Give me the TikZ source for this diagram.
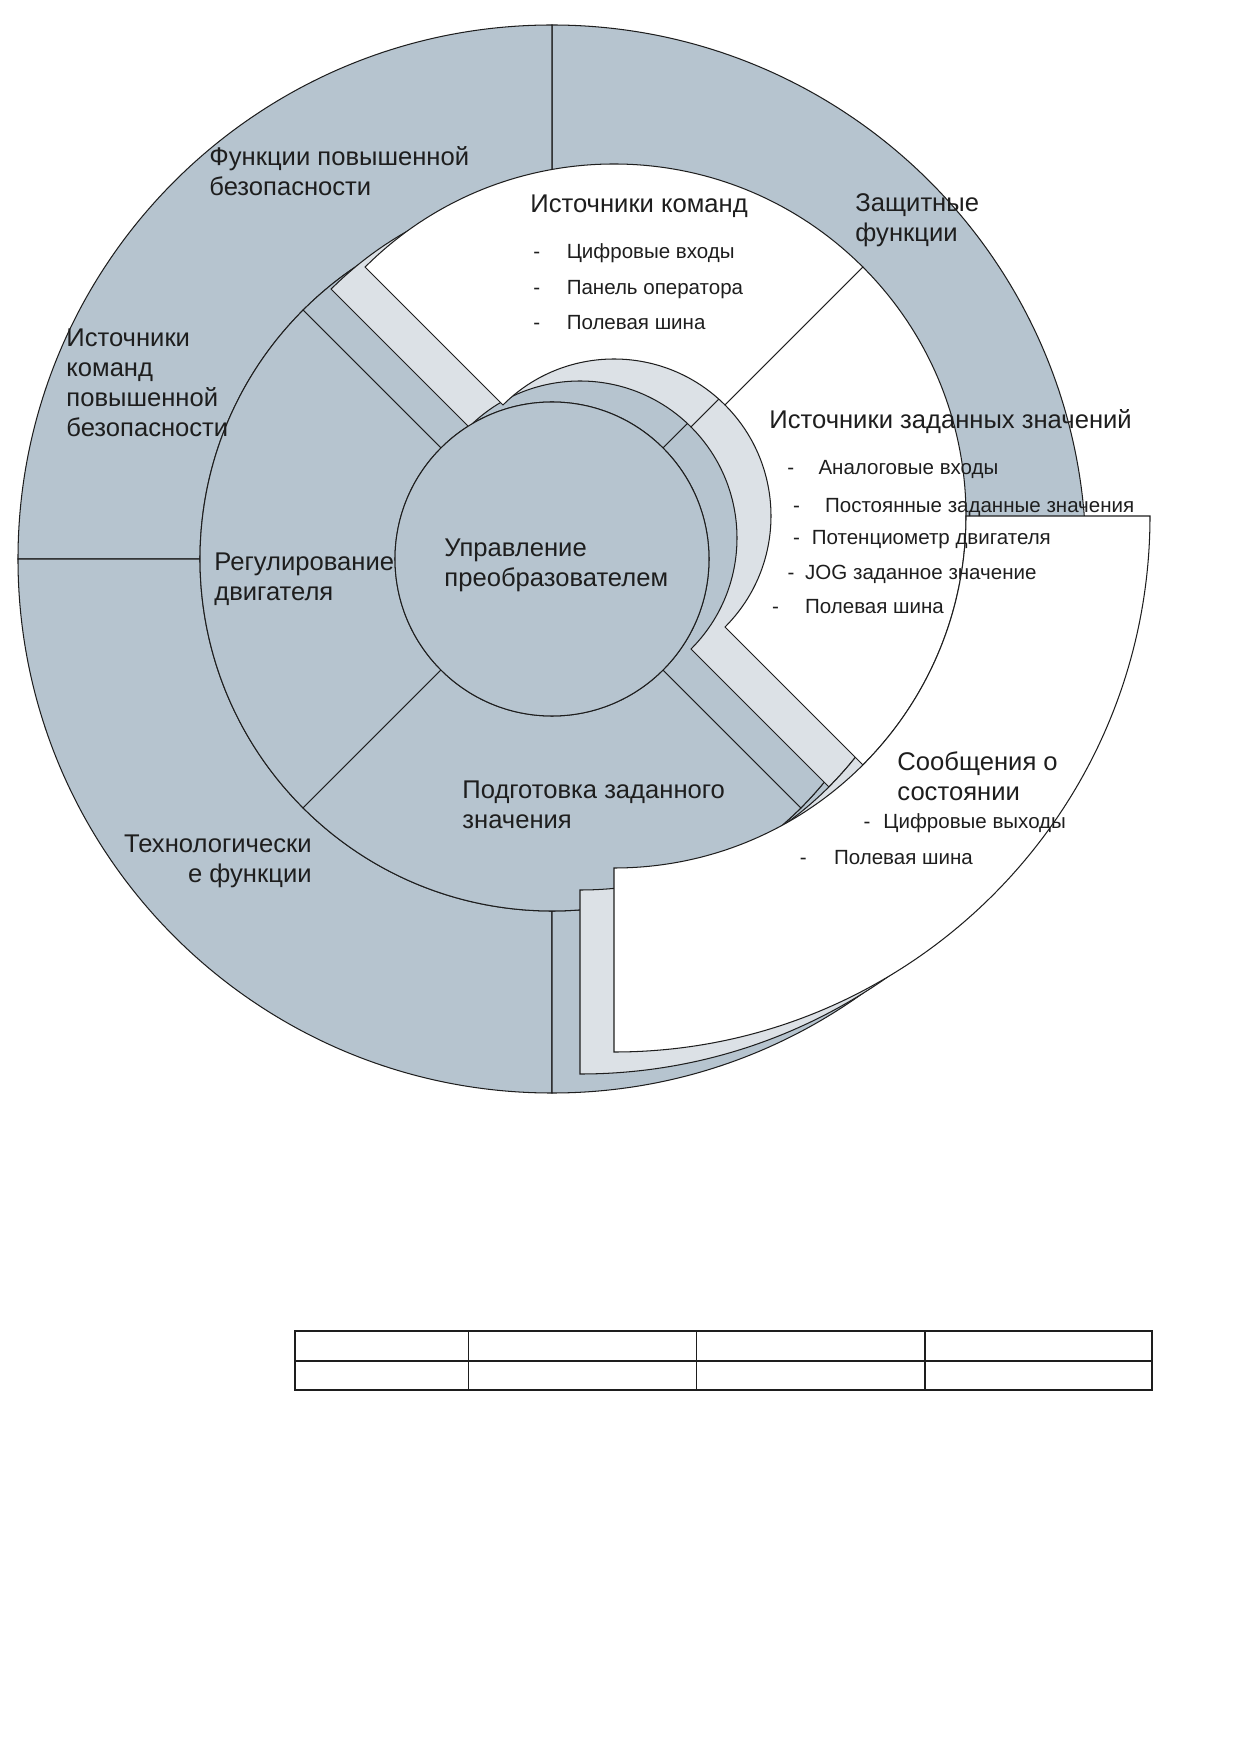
\documentclass[tikz,border=0pt]{standalone}
\usepackage{fontspec}
\setmainfont{Liberation Sans}
\usetikzlibrary{positioning}
\definecolor{ringblue}{RGB}{182,196,207}
\definecolor{ringlight}{RGB}{220,225,230}
\definecolor{inkgray}{RGB}{30,30,30}

% annular sector: shift, fill, start angle, end angle, inner radius, outer radius
\newcommand{\ringsector}[6]{%
	\filldraw[ringpart, fill=#2, shift={(#1)}] (#3:#5) arc[start angle=#3, end angle=#4, radius=#5]
		-- (#4:#6) arc[start angle=#4, end angle=#3, radius=#6] -- cycle;}

\begin{document}
\begin{tikzpicture}[x=0.01695cm, y=0.01695cm,
		ringpart/.style = {draw=inkgray, line width=0.5pt},
		ringlabel/.style = {text=inkgray, inner sep=0pt, align=left, font=\fontsize{12.35}{14.5}\selectfont},
		listitem/.style = {text=inkgray, inner sep=0pt, text height=0.75em, text depth=0.22em, font=\fontsize{9.9}{12}\selectfont},
		tablerule/.style = {draw=inkgray, line width=0.8pt}
		]
		\useasboundingbox (-552,559) rectangle (687,-1195);
		% outer and middle ring
		\foreach \a in {0,90,180,270}
			\ringsector{0,0}{ringblue}{\a}{\a+90}{352}{534};
		\foreach \a in {45,135,225,315}
			\ringsector{0,0}{ringblue}{\a}{\a+90}{157}{352};
		% shifted copies of the right-hand segments
		\foreach \dx/\dy/\c in {28/21/ringlight, 62/43/white} {
			\ringsector{\dx,\dy}{\c}{45}{135}{157}{352}
			\ringsector{\dx,\dy}{\c}{-45}{45}{157}{352}
			\ringsector{\dx,\dy}{\c}{270}{360}{352}{536}
		}
		% centre
		\filldraw[ringpart, fill=ringblue] (0,0) circle[radius=157];
		
		\node[ringlabel, anchor=west] (safefun) at (-343,388) {Функции повышенной\\безопасности};
		\node[ringlabel, anchor=west] (safecmd) at (-486,176) {Источники\\команд\\повышенной\\безопасности};
		\node[ringlabel, anchor=west] (motor) at (-338,-20) {Регулирование\\двигателя};
		\node[ringlabel, anchor=west] (conv) at (-108,-6) {Управление\\преобразователем};
		\node[ringlabel, anchor=west] (prep) at (-90,-245.5) {Подготовка заданного\\значения};
		\node[ringlabel, anchor=east, align=right] (tech) at (-240,-302) {Технологически\\е функции};
		\node[ringlabel, anchor=west] (cmd) at (-22,353) {Источники команд};
		\node[ringlabel, anchor=west] (prot) at (303,338.5) {Защитные\\функции};
		\node[ringlabel, anchor=west] (setp) at (217,137) {Источники заданных значений};
		\node[ringlabel, anchor=west] (state) at (345,-217) {Сообщения о\\состоянии};
		
		\node[listitem, anchor=west] (cmd1d) at (-19,306) {-};
		\node[listitem, base right=12.4pt of cmd1d] (cmd1) {Цифровые входы};
		\node[listitem, anchor=west] (cmd2d) at (-19,270.2) {-};
		\node[listitem, base right=12.4pt of cmd2d] (cmd2) {Панель оператора};
		\node[listitem, anchor=west] (cmd3d) at (-19,234.5) {-};
		\node[listitem, base right=12.4pt of cmd3d] (cmd3) {Полевая шина};
		
		\node[listitem, anchor=west] (setp1d) at (235,90.2) {-};
		\node[listitem, base right=11.3pt of setp1d] (setp1) {Аналоговые входы};
		\node[listitem, anchor=west] (setp2d) at (240.8,52.2) {-};
		\node[listitem, base right=11.7pt of setp2d] (setp2) {Постоянные заданные значения};
		\node[listitem, anchor=west] (setp3d) at (240.8,19.8) {-};
		\node[listitem, base right=5.3pt of setp3d] (setp3) {Потенциометр двигателя};
		\node[listitem, anchor=west] (setp4d) at (235.2,-14.9) {-};
		\node[listitem, base right=4.8pt of setp4d] (setp4) {JOG заданное значение};
		\node[listitem, anchor=west] (setp5d) at (219.6,-49.5) {-};
		\node[listitem, base right=12.3pt of setp5d] (setp5) {Полевая шина};
		
		\node[listitem, anchor=west] (state1d) at (311.3,-264.3) {-};
		\node[listitem, base right=5.8pt of state1d] (state1) {Цифровые выходы};
		\node[listitem, anchor=west] (state2d) at (247.5,-300) {-};
		\node[listitem, base right=12.8pt of state2d] (state2) {Полевая шина};
		
		% empty table
		\draw[tablerule] (-256.8,-771.7) rectangle (599.7,-830.9);
		\draw[tablerule] (-256.8,-801.9) -- (599.7,-801.9);
		\foreach \x in {-83.5,144.6,372.8}
			\draw[tablerule] (\x,-771.7) -- (\x,-830.9);
\end{tikzpicture}
\end{document}
